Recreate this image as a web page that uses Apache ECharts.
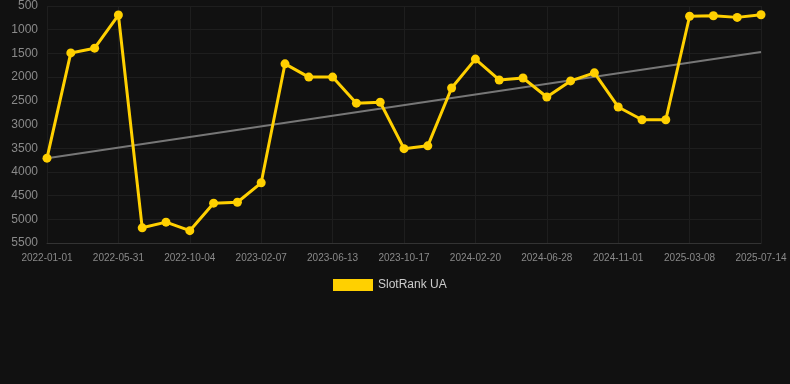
<!DOCTYPE html>
<html>
<head>
<meta charset="utf-8">
<script src="https://cdn.jsdelivr.net/npm/echarts@6/dist/echarts.min.js"></script>
<style>
html,body{margin:0;padding:0;background:#111111;}
#chart{width:790px;height:384px;}
</style>
</head>
<body>
<div id="chart"></div>
<script>
const categories = [
  '2022-01-01','2022-03-08','2022-04-19','2022-05-31','2022-07-12','2022-08-23',
  '2022-10-04','2022-11-15','2022-12-27','2023-02-07','2023-03-21','2023-05-02',
  '2023-06-13','2023-07-25','2023-09-05','2023-10-17','2023-11-28','2024-01-09',
  '2024-02-20','2024-04-02','2024-05-14','2024-06-28','2024-08-09','2024-09-20',
  '2024-11-01','2024-12-13','2025-01-24','2025-03-08','2025-04-19','2025-05-31',
  '2025-07-14'
];
const rankValues = [
  3710, 1490, 1390, 690, 5180, 5060, 5240, 4660, 4640, 4230,
  1720, 2000, 2000, 2550, 2530, 3510, 3450, 2230, 1620, 2060,
  2020, 2420, 2080, 1910, 2630, 2900, 2900, 717, 705, 740, 685
];
const trendStart = 3710;
const trendEnd = 1470;
const yTicks = { min: 500, max: 5500, interval: 500 };

const trendValues = categories.map((c, i) =>
  i === 0 ? trendStart : (i === categories.length - 1 ? trendEnd : null));

const chart = echarts.init(document.getElementById('chart'));
chart.setOption({
  backgroundColor: '#111111',
  animation: false,
  grid: { left: 47, right: 29, top: 6, bottom: 141 },
  legend: {
    data: ['SlotRank UA'],
    top: 274,
    left: 328,
    itemWidth: 40,
    itemHeight: 12,
    icon: 'rect',
    textStyle: { color: '#cccccc', fontSize: 12, fontFamily: 'Arial, Liberation Sans, sans-serif' }
  },
  xAxis: {
    type: 'category',
    data: categories,
    boundaryGap: false,
    axisLine: { show: true, lineStyle: { color: '#333333' } },
    axisTick: { show: false },
    axisLabel: { interval: 2, color: '#8a8a8a', fontSize: 10, margin: 10, fontFamily: 'Arial, Liberation Sans, sans-serif' },
    splitLine: { show: true, interval: 2, lineStyle: { color: '#1e1e1e' } }
  },
  yAxis: {
    type: 'value',
    inverse: true,
    min: yTicks.min,
    max: yTicks.max,
    interval: yTicks.interval,
    axisLine: { show: false },
    axisTick: { show: false },
    axisLabel: { color: '#8a8a8a', fontSize: 12, margin: 9, fontFamily: 'Arial, Liberation Sans, sans-serif',
      formatter: v => String(v) },
    splitLine: { show: true, lineStyle: { color: '#1e1e1e' } }
  },
  series: [
    {
      name: 'SlotRank UA',
      type: 'line',
      data: rankValues,
      symbol: 'circle',
      symbolSize: 9,
      itemStyle: { color: '#ffd000' },
      lineStyle: { color: '#ffd000', width: 3 },
      z: 3
    },
    {
      name: 'trend',
      type: 'line',
      data: trendValues,
      connectNulls: true,
      symbol: 'none',
      lineStyle: { color: '#777777', width: 2 },
      itemStyle: { color: '#777777' },
      z: 2,
      silent: true
    }
  ]
});
</script>
</body>
</html>
